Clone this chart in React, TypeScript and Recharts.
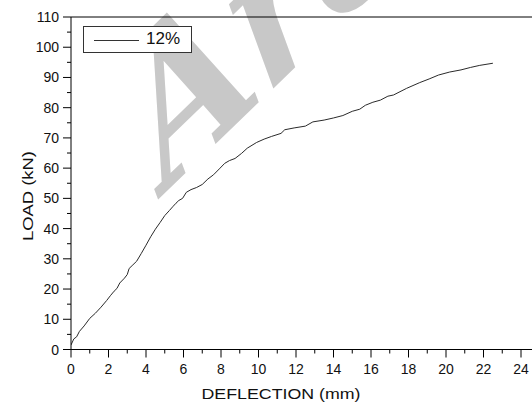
import React from 'react';
import { LineChart, Line, XAxis, YAxis, Legend, ReferenceLine, Label } from 'recharts';

// load–deflection curve, 12% series
const DEFLECTION = [
  0, 0.15, 0.3, 0.45, 0.7, 1.0, 1.3, 1.6, 1.9, 2.1, 2.3, 2.45, 2.6, 2.85, 3.0, 3.1, 3.3,
  3.5, 3.75, 4.0, 4.25, 4.5, 4.75, 5.0, 5.25, 5.45, 5.6, 5.75, 5.95, 6.15, 6.4, 6.7, 7.0,
  7.3, 7.6, 7.95, 8.2, 8.45, 8.75, 9.1, 9.4, 9.9, 10.3, 10.7, 11.2, 11.4, 11.9, 12.5, 12.9,
  13.5, 14.0, 14.5, 15.0, 15.4, 15.7, 16.1, 16.5, 16.9, 17.2, 17.9, 18.6, 19.1, 19.6, 20.2,
  20.8, 21.3, 21.8, 22.5,
];
const LOAD = [
  1.5, 3.5, 4.2, 6.0, 7.8, 10.3, 12.0, 14.0, 16.2, 17.8, 19.3, 20.2, 22.0, 23.6, 24.8, 26.8,
  28.0, 29.2, 31.8, 34.5, 37.3, 39.8, 42.0, 44.3, 46.0, 47.4, 48.4, 49.3, 50.0, 52.0, 52.9,
  53.6, 54.6, 56.4, 57.8, 60.0, 61.6, 62.5, 63.2, 64.9, 66.6, 68.5, 69.6, 70.5, 71.5, 72.7,
  73.3, 73.9, 75.3, 75.9, 76.6, 77.4, 78.8, 79.5, 80.8, 81.8, 82.5, 83.8, 84.2, 86.4, 88.3,
  89.5, 90.8, 91.8, 92.5, 93.3, 94.0, 94.7,
];
const SERIES_NAME = '12%';

const X_TICKS = Array.from({ length: 26 }, (_, i) => i);
const Y_TICKS = Array.from({ length: 23 }, (_, i) => i * 5);

const data = DEFLECTION.map((d, i) => ({ d, load: LOAD[i] }));

const FONT = '"Liberation Sans", Arial, sans-serif';
const INK = '#000';

const YTick = (props: any) => {
  const { x, y, payload } = props;
  const major = payload.value % 10 === 0;
  return (
    <g>
      <line x1={x - (major ? 8 : 4)} y1={y} x2={x} y2={y} stroke={INK} />
      {major && (
        <text x={x - 12} y={y} dy="0.36em" textAnchor="end" fontFamily={FONT} fontSize={14} fill="#111">
          {payload.value}
        </text>
      )}
    </g>
  );
};

const XTick = (props: any) => {
  const { x, y, payload } = props;
  const major = payload.value % 2 === 0;
  return (
    <g>
      <line x1={x} y1={y} x2={x} y2={y + (major ? 8 : 4)} stroke={INK} />
      {major && (
        <text x={x} y={y + 24} textAnchor="middle" fontFamily={FONT} fontSize={14} fill="#111">
          {payload.value}
        </text>
      )}
    </g>
  );
};

const LegendBox = (props: any) => {
  const item = props.payload?.[0];
  return (
    <div
      style={{
        width: 107,
        height: 25,
        border: '1px solid #333',
        background: '#fff',
        position: 'relative',
        fontFamily: FONT,
      }}
    >
      <svg width={60} height={25} style={{ position: 'absolute', left: 0, top: 0 }}>
        <line x1={10} y1={13.5} x2={55} y2={13.5} stroke="#333" />
      </svg>
      <span style={{ position: 'absolute', left: 62, top: 2, fontSize: 17, color: '#111' }}>
        {item ? item.value : ''}
      </span>
    </div>
  );
};

export default function App() {
  return (
    <div style={{ position: 'fixed', left: 0, top: 0, width: 532, height: 404, overflow: 'hidden', background: '#fff' }}>
      {/* faint watermark behind the plot */}
      <svg width={532} height={404} style={{ position: 'absolute', left: 0, top: 0 }}>
        <text
          transform="translate(168,190) rotate(-44) skewX(-14)"
          style={{
            fontFamily: '"DejaVu Serif", "Liberation Serif", "Times New Roman", serif',
            fontWeight: 700,
            fontStyle: 'italic',
            fontSize: 176,
          }}
          fill="#c8c8c8"
        >
          Arc
        </text>
      </svg>
      <div style={{ position: 'absolute', left: 0, top: 0 }}>
        <LineChart width={560} height={404} data={data} margin={{ top: 17, right: 20.25, bottom: 24.5, left: 11 }}>
          <XAxis
            type="number"
            dataKey="d"
            domain={[0, 25]}
            ticks={X_TICKS}
            interval={0}
            height={30}
            tickSize={0}
            tickMargin={0}
            tickLine={false}
            tick={<XTick />}
            axisLine={{ stroke: INK }}
            allowDataOverflow
          >
            <Label
              content={() => (
                <text x={281} y={399} textAnchor="middle" fontFamily={FONT} fontSize={15.5} fill="#111" textLength={159} lengthAdjust="spacingAndGlyphs">
                  DEFLECTION (mm)
                </text>
              )}
            />
          </XAxis>
          <YAxis
            type="number"
            domain={[0, 110]}
            ticks={Y_TICKS}
            interval={0}
            width={60}
            tickSize={0}
            tickMargin={0}
            tickLine={false}
            tick={<YTick />}
            axisLine={{ stroke: INK }}
            allowDataOverflow
          >
            <Label
              content={() => (
                <text
                  transform="translate(33,196) rotate(-90)"
                  textAnchor="middle"
                  fontFamily={FONT}
                  fontSize={15.5}
                  fill="#111"
                  textLength={90}
                  lengthAdjust="spacingAndGlyphs"
                >
                  LOAD (kN)
                </text>
              )}
            />
          </YAxis>
          <ReferenceLine y={110} stroke={INK} ifOverflow="extendDomain" />
          <Legend
            layout="vertical"
            align="center"
            verticalAlign="middle"
            wrapperStyle={{ left: 83, top: 26, width: 'auto' }}
            content={<LegendBox />}
          />
          <Line
            type="linear"
            dataKey="load"
            name={SERIES_NAME}
            stroke="#2a2a2a"
            strokeWidth={1}
            dot={false}
            isAnimationActive={false}
          />
        </LineChart>
      </div>
    </div>
  );
}
